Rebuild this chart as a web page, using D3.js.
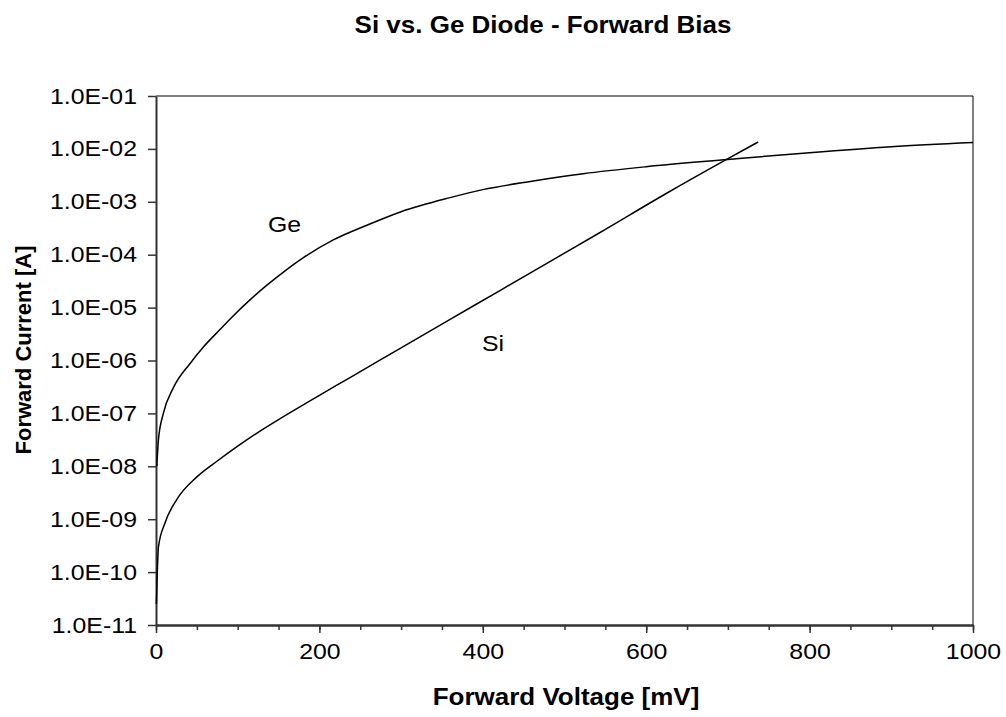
<!DOCTYPE html>
<html>
<head>
<meta charset="utf-8">
<script src="https://cdn.jsdelivr.net/npm/d3@7"></script>
<style>
  body { margin: 0; background: #fff; }
  svg text { font-family: "Liberation Sans", Arial, sans-serif; fill: #000; }
</style>
</head>
<body>
<div id="chart"></div>
<script>
// Si vs. Ge diode forward bias, log current vs voltage

// Data (voltage in mV, current in A)
var geVoltage = [1, 3, 9, 21, 42, 58, 78, 95, 115, 135, 156, 180, 217, 258, 300, 360, 400, 460, 523, 600, 700, 800, 900, 1000];
var geCurrent = [1.0e-8, 3.2e-8, 1.0e-7, 3.0e-7, 8.9e-7, 1.8e-6, 3.8e-6, 7.1e-6, 1.4e-5, 2.6e-5, 4.7e-5, 8.7e-5,
                 1.9e-4, 3.6e-4, 6.5e-4, 1.2e-3, 1.7e-3, 2.45e-3, 3.4e-3, 4.6e-3, 6.3e-3, 8.5e-3, 1.1e-2, 1.32e-2];

var siVoltage = [0.5, 3, 11, 25, 50, 75, 100, 125, 156, 200, 237, 300, 360, 421, 480, 543, 625, 694, 737];
var siCurrent = [2.5e-11, 3.0e-10, 8.5e-10, 2.3e-9, 6.3e-9, 1.26e-8, 2.4e-8, 4.4e-8, 8.7e-8, 2.2e-7,
                 4.7e-7, 1.74e-6, 6.0e-6, 2.1e-5, 7.1e-5, 2.6e-4, 1.45e-3, 5.8e-3, 1.35e-2];

var yTicks = [1e-11, 1e-10, 1e-9, 1e-8, 1e-7, 1e-6, 1e-5, 1e-4, 1e-3, 1e-2, 1e-1];
var yTickLabels = ["1.0E-11", "1.0E-10", "1.0E-09", "1.0E-08", "1.0E-07", "1.0E-06",
                   "1.0E-05", "1.0E-04", "1.0E-03", "1.0E-02", "1.0E-01"];
var xMajorTicks = [0, 200, 400, 600, 800, 1000];
var xMinorTicks = d3.range(0, 1001, 50);

// Layout
// =======================
var width = 1006;
var height = 717;
var plotLeft = 156;
var plotRight = 973;
var plotTop = 96;
var plotBottom = 625;
var stretch = 1.13;   // the original text is a bit wider than plain Arial

var svg = d3.select("#chart")
    .append("svg")
    .attr("width", width)
    .attr("height", height);

var xScale = d3.scaleLinear()
    .domain([0, 1000])
    .range([plotLeft, plotRight]);

var yScale = d3.scaleLog()
    .domain([1e-11, 1e-1])
    .range([plotBottom, plotTop]);

// Plot frame (top and right edges)
svg.append("path")
    .attr("d", "M" + plotLeft + "," + plotTop + "H" + plotRight + "V" + plotBottom)
    .attr("fill", "none")
    .attr("stroke", "#000")
    .attr("stroke-width", 1);

// Axes
// =======================
var xMinorAxis = d3.axisBottom(xScale)
    .tickValues(xMinorTicks)
    .tickSize(5)
    .tickSizeOuter(0)
    .tickFormat("");

svg.append("g")
    .attr("class", "xMinor")
    .attr("transform", "translate(0," + plotBottom + ")")
    .call(xMinorAxis);

var xAxis = d3.axisBottom(xScale)
    .tickValues(xMajorTicks)
    .tickSize(8)
    .tickSizeOuter(0)
    .tickPadding(10)
    .tickFormat(d3.format("d"));

svg.append("g")
    .attr("class", "xAxis")
    .attr("transform", "translate(0," + plotBottom + ")")
    .call(xAxis);

var yAxis = d3.axisLeft(yScale)
    .tickValues(yTicks)
    .tickSize(8)
    .tickSizeOuter(0)
    .tickPadding(11)
    .tickFormat(function(d, i) { return yTickLabels[i]; });

svg.append("g")
    .attr("class", "yAxis")
    .attr("transform", "translate(" + plotLeft + ",0)")
    .call(yAxis);

svg.selectAll(".domain")
    .attr("stroke", "#333")
    .attr("stroke-width", 2);
svg.selectAll(".tick line")
    .attr("stroke", "#333")
    .attr("stroke-width", 1.5);

svg.selectAll(".xAxis text, .yAxis text")
    .attr("font-size", 22)
    .attr("font-family", "Liberation Sans, Arial, sans-serif")
    .attr("fill", "#000")
    .attr("transform", "scale(" + stretch + ",1)");

svg.selectAll(".yAxis text")
    .attr("x", -19 / stretch);

// Curves
// =======================
var line = d3.line()
    .x(function(d) { return xScale(d[0]); })
    .y(function(d) { return yScale(d[1]); })
    .curve(d3.curveMonotoneX);

var geData = d3.zip(geVoltage, geCurrent);
var siData = d3.zip(siVoltage, siCurrent);

svg.append("path")
    .datum(geData)
    .attr("fill", "none")
    .attr("stroke", "#000")
    .attr("stroke-width", 1.5)
    .attr("d", line);

svg.append("path")
    .datum(siData)
    .attr("fill", "none")
    .attr("stroke", "#000")
    .attr("stroke-width", 1.5)
    .attr("d", line);

// Text
// =======================
function addText(x, y, str, size, bold, anchor) {
    return svg.append("text")
        .attr("transform", "translate(" + x + "," + y + ") scale(" + stretch + ",1)")
        .attr("text-anchor", anchor || "middle")
        .attr("font-size", size)
        .attr("font-weight", bold ? "bold" : "normal")
        .text(str);
}

addText(543, 33, "Si vs. Ge Diode - Forward Bias", 23, true);
addText(566, 705, "Forward Voltage [mV]", 23, true);
addText(268, 232, "Ge", 22, false, "start");
addText(482, 351, "Si", 22, false, "start");

svg.append("text")
    .attr("transform", "translate(31,350) rotate(-90)")
    .attr("text-anchor", "middle")
    .attr("font-size", 22)
    .attr("font-weight", "bold")
    .text("Forward Current [A]");
</script>
</body>
</html>
